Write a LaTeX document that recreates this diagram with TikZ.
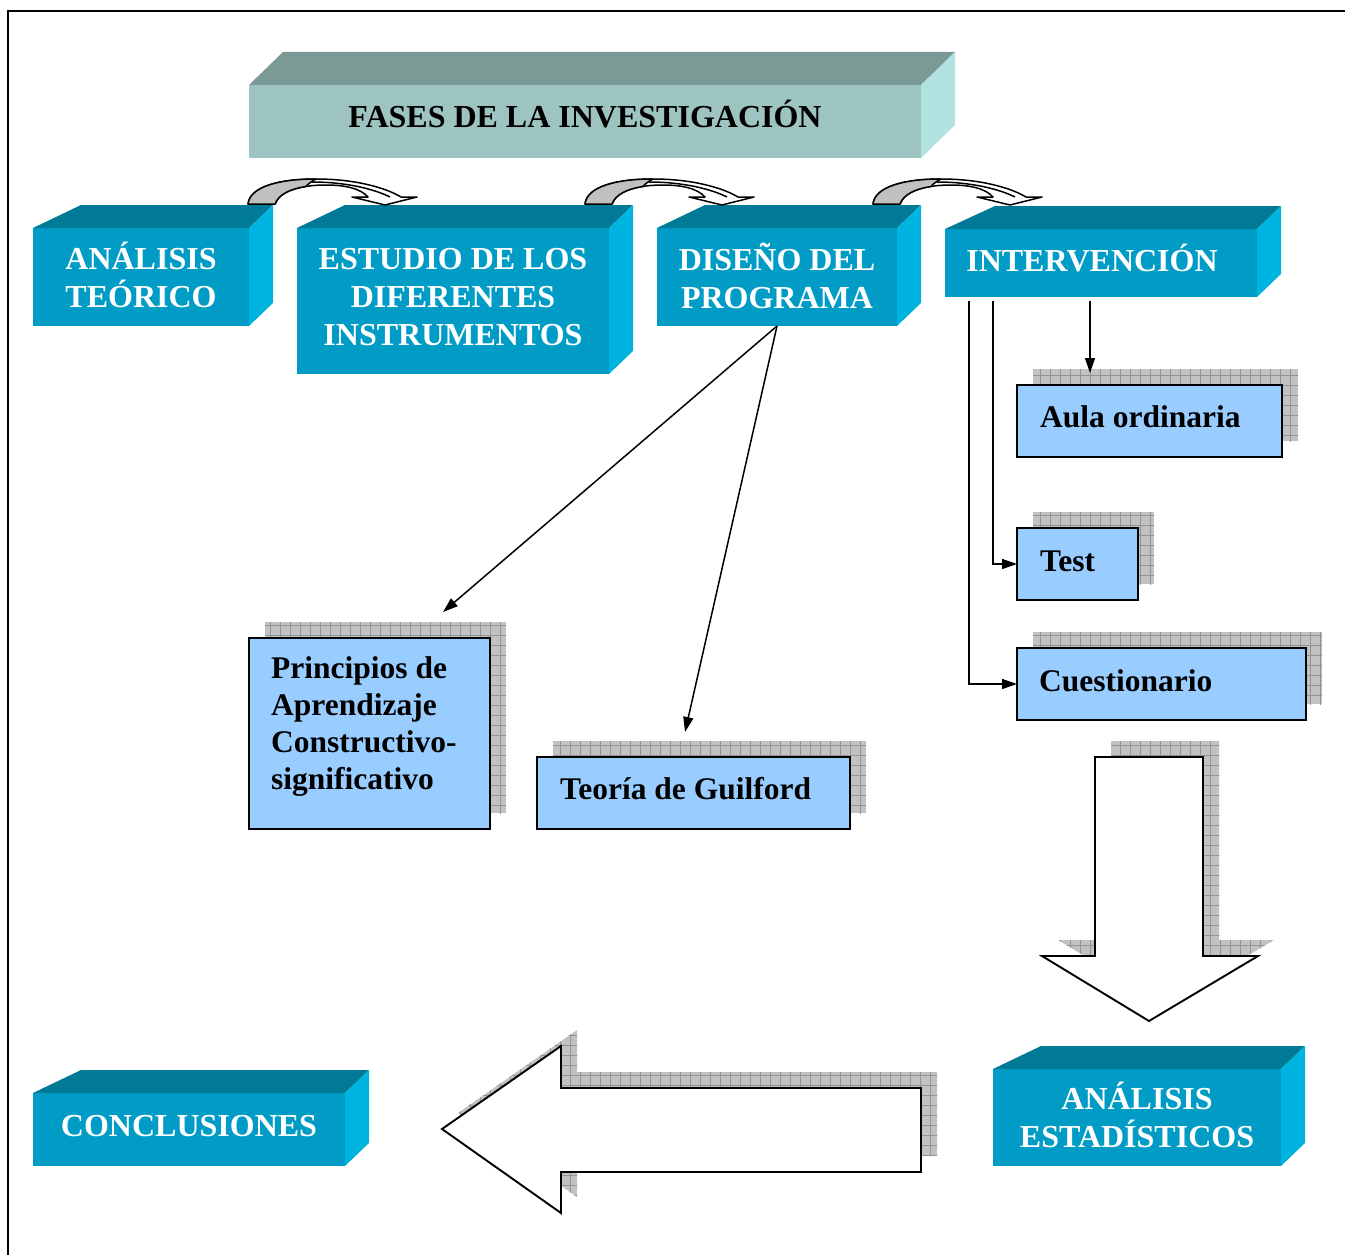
\documentclass[tikz,border=0pt]{standalone}
\usepackage{fontspec}
\setmainfont{Liberation Serif}
\usetikzlibrary{arrows.meta,patterns.meta}

\definecolor{cubefront}{RGB}{0,156,198}
\definecolor{cubetop}{RGB}{0,122,150}
\definecolor{cuberight}{RGB}{0,180,224}
\definecolor{headfront}{RGB}{158,196,194}
\definecolor{headtop}{RGB}{122,154,150}
\definecolor{headright}{RGB}{178,226,224}
\definecolor{paleblue}{RGB}{153,204,255}
\definecolor{bentgray}{RGB}{192,192,192}

\tikzset{
  x=1pt, y=-1pt,
  cubeface/.style={fill=cubefront, inner sep=0pt, outer sep=0pt},
  headface/.style={fill=headfront, inner sep=0pt, outer sep=0pt},
  cubetext/.style={text=white, font=\fontsize{32}{38}\selectfont\bfseries, align=center, inner sep=0pt},
  headtext/.style={text=black, font=\fontsize{32}{38}\selectfont\bfseries, inner sep=0pt},
  cardbox/.style={draw=black, line width=2.2pt, fill=paleblue, inner sep=0pt, outer sep=0pt},
  cardtext/.style={text=black, font=\fontsize{31.5}{37}\selectfont\bfseries, align=left, inner sep=0pt},
  hatchshadow/.style={fill=gray!48, postaction={pattern={Hatch[distance=10pt,angle=0,line width=0.6pt]}, pattern color=gray!85}},
  link/.style={draw=black, line width=1.5pt, -{Triangle[length=15pt,width=10pt]}},
  bigarrow/.style={draw=black, line width=1.9pt, fill=white, line join=miter},
  bent/.style={draw=black, line width=1.5pt, line join=round},
}

% top and right faces of a block; #1 node, #2 shift of the top-left edge,
% #3 depth to the right, #4 rise, #5 top colour, #6 side colour
\newcommand\blockfaces[6]{%
  \fill[#5] (#1.north west) -- ([xshift=#2pt,yshift=#4pt]#1.north west)
     -- ([xshift=#3pt,yshift=#4pt]#1.north east) -- (#1.north east) -- cycle;
  \fill[#6] (#1.north east) -- ([xshift=#3pt,yshift=#4pt]#1.north east)
     -- ([xshift=#3pt,yshift=#4pt]#1.south east) -- (#1.south east) -- cycle;
}

% curved step arrow standing on y = 204, its tail at x = #1
\newcommand\steparrow[1]{%
  \begin{scope}[shift={(#1,204)}]
    \path[bent, fill=white] (0,0) .. controls (2,-17) and (30,-25) .. (68,-25)
      .. controls (108,-25) and (138,-16) .. (153,-7) -- (169,-7) -- (137,1)
      -- (104,-7) -- (120,-7) .. controls (112,-16) and (96,-19) .. (78,-19)
      .. controls (55,-19) and (32,-14) .. (27,0) -- cycle;
    \path[bent, fill=bentgray] (0,0) .. controls (2,-17) and (30,-25) .. (68,-25)
      .. controls (64,-23) and (60,-20) .. (57.8,-17.5)
      .. controls (42.8,-15.2) and (30.5,-9.8) .. (27,0) -- cycle;
    \draw[bent] (64,-22) .. controls (98,-22) and (126,-15) .. (142,-7);
  \end{scope}
}

\begin{document}
\begin{tikzpicture}
\useasboundingbox (0,0) rectangle (1345,1255);

% frame
\draw[line width=2.2pt] (1345,11) -- (8,11) -- (8,1255);

% heading block
\node[headface, minimum width=672pt, minimum height=73pt] (fases) at (585,121.5) {};
\blockfaces{fases}{34}{34}{33}{headtop}{headright}
\node[headtext, anchor=base] (fasest) at (585,127) {FASES DE LA INVESTIGACIÓN};

% phase blocks
\node[cubeface, minimum width=216pt, minimum height=98pt] (ana) at (141,277) {};
\blockfaces{ana}{48}{24}{23}{cubetop}{cuberight}
\node[cubetext] (anat) at (141,274.5) {ANÁLISIS\\TEÓRICO};

\node[cubeface, minimum width=312pt, minimum height=146pt] (est) at (453,301) {};
\blockfaces{est}{48}{24}{23}{cubetop}{cuberight}
\node[cubetext] (estt) at (453,297) {ESTUDIO DE LOS\\DIFERENTES\\INSTRUMENTOS};

\node[cubeface, minimum width=240pt, minimum height=98pt] (dis) at (777,277) {};
\blockfaces{dis}{48}{24}{23}{cubetop}{cuberight}
\node[cubetext] (dist) at (777,275.5) {DISEÑO DEL\\PROGRAMA};

\node[cubeface, minimum width=312pt, minimum height=68pt] (int) at (1101,263) {};
\blockfaces{int}{50}{24}{23}{cubetop}{cuberight}
\node[cubetext, anchor=base] (intt) at (1092,271) {INTERVENCIÓN};

\node[cubeface, minimum width=312pt, minimum height=73pt] (con) at (189,1129.5) {};
\blockfaces{con}{48}{24}{23}{cubetop}{cuberight}
\node[cubetext, anchor=base] (cont) at (189,1136) {CONCLUSIONES};

\node[cubeface, minimum width=288pt, minimum height=97pt] (esta) at (1137,1117.5) {};
\blockfaces{esta}{48}{24}{23}{cubetop}{cuberight}
\node[cubetext] (estat) at (1137,1114.5) {ANÁLISIS\\ESTADÍSTICOS};

% curved step arrows between the phases
\steparrow{248}
\steparrow{585}
\steparrow{873}

% hatched shadows of the cards
\path[hatchshadow] (1033,369) rectangle (1298,441);
\path[hatchshadow] (1033,512) rectangle (1154,584);
\path[hatchshadow] (1033,632) rectangle (1322,704);
\path[hatchshadow] (265,622) rectangle (506,813);
\path[hatchshadow] (553,741) rectangle (866,813);

% cards
\node[cardbox, minimum width=265pt, minimum height=72pt] (aula) at (1149.5,421) {};
\node[cardtext, anchor=base west] (aulat) at (1040,427) {Aula ordinaria};
\node[cardbox, minimum width=121pt, minimum height=72pt] (test) at (1077.5,564) {};
\node[cardtext, anchor=base west] (testt) at (1040,571) {Test};
\node[cardbox, minimum width=289pt, minimum height=72pt] (cue) at (1161.5,684) {};
\node[cardtext, anchor=base west] (cuet) at (1039,691) {Cuestionario};
\node[cardbox, minimum width=241pt, minimum height=191pt] (pri) at (369.5,733.5) {};
\node[cardtext, anchor=west] (prit) at (271,727) {Principios de\\Aprendizaje\\Constructivo-\\significativo};
\node[cardbox, minimum width=313pt, minimum height=72pt] (guil) at (693.5,793) {};
\node[cardtext, anchor=base west] (guilt) at (560,799) {Teoría de Guilford};

% connectors
\coordinate (priend) at (443,612);
\coordinate (guilend) at (685,732);
\draw[link] (dis.south) -- (priend);
\draw[link] (dis.south) -- (guilend);

\coordinate (ia) at (1090,301);
\coordinate (ib) at (993,301);
\coordinate (ic) at (969,301);
\coordinate (aulaend) at (1090,373);
\draw[link] (ia) -- (aulaend);
\draw[link] (ib) |- (test.west);
\draw[link] (ic) |- (cue.west);

% block arrow down to the statistics
\begin{scope}[shift={(16,-16)}]
  \path[hatchshadow] (1095,757) -- (1203,757) -- (1203,956) -- (1258,956)
    -- (1149,1021) -- (1042,956) -- (1095,956) -- cycle;
\end{scope}
\path[bigarrow] (1095,757) -- (1203,757) -- (1203,956) -- (1258,956)
  -- (1149,1021) -- (1042,956) -- (1095,956) -- cycle;

% block arrow left to the conclusions
\begin{scope}[shift={(16,-16)}]
  \path[hatchshadow] (921,1088) -- (561,1088) -- (561,1046) -- (442,1129)
    -- (561,1213) -- (561,1172) -- (921,1172) -- cycle;
\end{scope}
\path[bigarrow] (921,1088) -- (561,1088) -- (561,1046) -- (442,1129)
  -- (561,1213) -- (561,1172) -- (921,1172) -- cycle;
\end{tikzpicture}
\end{document}
